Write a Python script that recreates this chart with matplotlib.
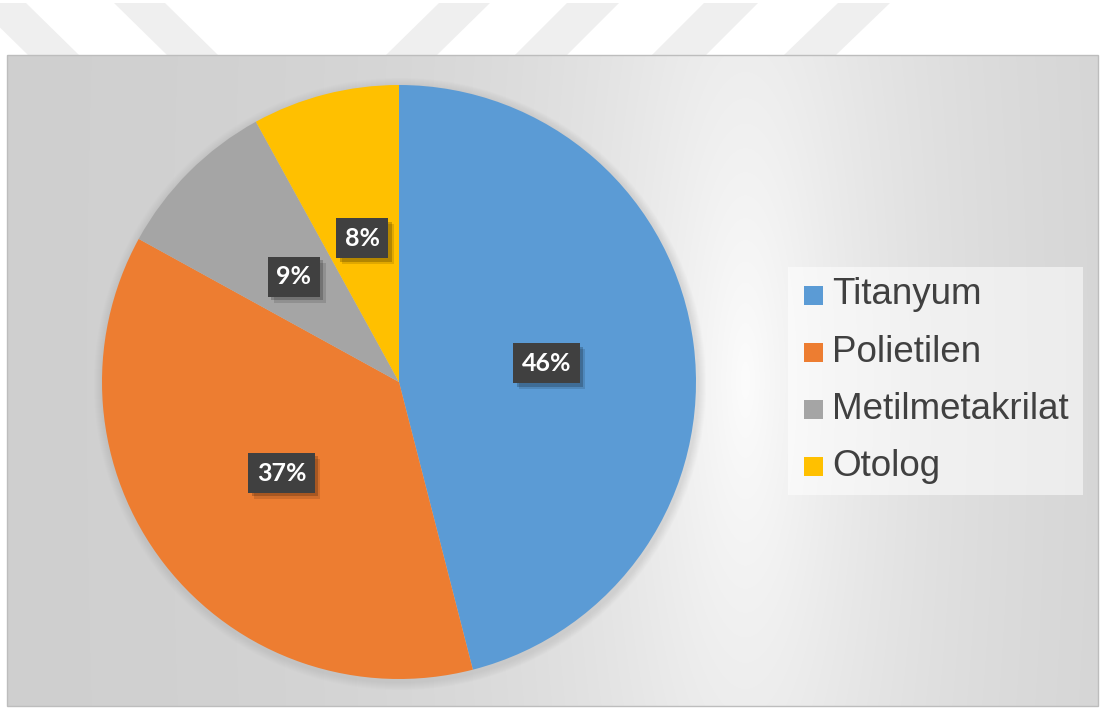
import matplotlib
matplotlib.use("Agg")
import matplotlib.pyplot as plt
import matplotlib.patheffects as pe
from matplotlib.patches import Polygon, Rectangle, Circle
import numpy as np

# data
labels = ["Titanyum", "Polietilen", "Metilmetakrilat", "Otolog"]
values = [46, 37, 9, 8]
colors = ["#5b9bd5", "#ed7d31", "#a5a5a5", "#ffc000"]

W, H = 1101, 708
fig = plt.figure(figsize=(W / 100, H / 100), dpi=100)
fig.patch.set_facecolor("white")

# background layer in pixel coordinates
bg = fig.add_axes([0, 0, 1, 1])
bg.axis("off")

# faint watermark stripes above the chart
for x0, x1, dx in [(-25, 26, 53), (114, 165, 53), (439, 490, -53),
                   (567, 619, -52), (704, 758, -52), (838, 890, -54)]:
    bg.add_patch(Polygon([(x0, 3), (x1, 3), (x1 + dx, 55), (x0 + dx, 55)],
                         closed=True, facecolor="#efefef", edgecolor="none"))

# chart area with radial grey gradient
left, top, right, bottom = 7, 55, 1098, 706
xx, yy = np.meshgrid(np.arange(left, right), np.arange(top, bottom))
r = np.sqrt(((xx - 745) / 210.0) ** 2 + ((yy - 380) / 850.0) ** 2)
shade = (252 - 46 * (1 - np.exp(-r))) / 255.0
img = np.dstack([shade, shade, shade])
bg.imshow(img, extent=(left, right, bottom, top), aspect="auto",
          interpolation="bilinear")
bg.add_patch(Rectangle((left, top), right - left, bottom - top,
                       facecolor="none", edgecolor="#bdbdbd", lw=1))
bg.set_xlim(0, W)
bg.set_ylim(H, 0)

# pie
cx, cy, rad = 399, 382, 297
# soft halo behind the pie
for k in range(8):
    bg.add_patch(Circle((cx + 1, cy + 2), rad + 9 - k, facecolor="#808080",
                        edgecolor="none", alpha=0.025))

ax = fig.add_axes([(cx - rad) / W, (H - cy - rad) / H, 2 * rad / W, 2 * rad / H])
wedges, texts, autotexts = ax.pie(
    values, colors=colors, startangle=90, counterclock=False,
    autopct="%1.0f%%", pctdistance=0.5,
    wedgeprops=dict(linewidth=0),
    textprops=dict(color="white", fontsize=18, fontweight="bold",
                   family=["Lato", "DejaVu Sans"]))
ax.set_xlim(-1, 1)
ax.set_ylim(-1, 1)
ax.axis("off")

for t in autotexts:
    t.set_bbox(dict(boxstyle="square,pad=0.34", facecolor="#404040",
                    edgecolor="none", linewidth=0))
    t.get_bbox_patch().set_path_effects(
        [pe.SimplePatchShadow(offset=(4, -4), shadow_rgbFace="black", alpha=0.12),
         pe.SimplePatchShadow(offset=(2.5, -2.5), shadow_rgbFace="black", alpha=0.2),
         pe.Normal()])

# legend
lx0, ly0, lx1, ly1 = 788, 267, 1083, 495
bg.add_patch(Rectangle((lx0, ly0), lx1 - lx0, ly1 - ly0,
                       facecolor="white", alpha=0.55, edgecolor="none"))
row0, step = 295, 57.3
for i, (lab, col) in enumerate(zip(labels, colors)):
    y = row0 + i * step
    bg.add_patch(Rectangle((804, y - 9.5), 19, 19, facecolor=col, edgecolor="none"))
    bg.text(832, y, lab, fontsize=26.5, color="#404040", va="center", ha="left",
            family=["Liberation Sans", "DejaVu Sans"])

fig.savefig("out.png", dpi=100)
